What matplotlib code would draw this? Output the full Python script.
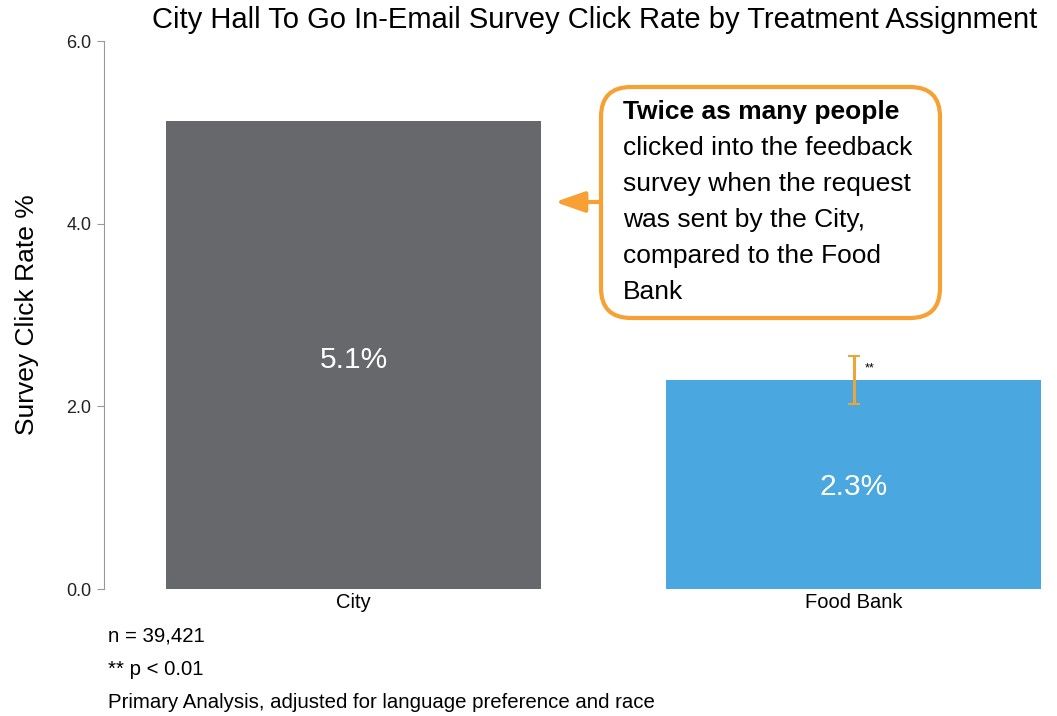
import matplotlib
matplotlib.use("Agg")
import matplotlib.pyplot as plt
from matplotlib.patches import FancyBboxPatch
from matplotlib.transforms import IdentityTransform

plt.rcParams['font.family'] = ['Liberation Sans', 'DejaVu Sans']

categories = ['City', 'Food Bank']
rates = [5.12, 2.29]
rate_labels = ['5.1%', '2.3%']
err_low = [None, 0.26]
err_high = [None, 0.26]
sig_marks = ['', '**']
yticks = [0.0, 2.0, 4.0, 6.0]
title = 'City Hall To Go In-Email Survey Click Rate by Treatment Assignment'
ylabel = 'Survey Click Rate %'
notes = ['n = 39,421', '** p < 0.01', 'Primary Analysis, adjusted for language preference and race']
callout_bold = 'Twice as many people'
callout_lines = ['clicked into the feedback', 'survey when the request',
                 'was sent by the City,', 'compared to the Food', 'Bank']

W, H = 1057, 716
bar_colors = ['#67686c', '#4aa7e0']
orange = '#f7a033'

fig = plt.figure(figsize=(W / 100, H / 100), dpi=100)
fig.patch.set_facecolor('white')

ax_l, ax_b, ax_t = 104, 589, 41
ax = fig.add_axes([ax_l / W, (H - ax_b) / H, (W - ax_l) / W, (ax_b - ax_t) / H])
x = list(range(len(categories)))
ax.bar(x, rates, width=0.75, color=bar_colors)
for i, (r, lab) in enumerate(zip(rates, rate_labels)):
    ax.text(i, r * 0.49, lab, ha='center', va='center', color='white', fontsize=21.5)
    if err_low[i] is not None:
        ax.errorbar(i, r, yerr=[[err_low[i]], [err_high[i]]], fmt='none',
                    ecolor='#e8a63c', elinewidth=2.2, capsize=4, capthick=1.5)
        ax.text(i + 0.022, r + err_high[i] * 0.5, sig_marks[i], ha='left', va='center', fontsize=9)

ax.set_xlim(-0.499, 1.407)
ax.set_ylim(0, 6)
ax.set_yticks(yticks)
ax.set_yticklabels([f'{v:.1f}' for v in yticks], fontsize=13, color='#222222')
ax.set_xticks(x)
ax.set_xticklabels(categories, fontsize=14.5)
ax.tick_params(axis='x', length=0, pad=3)
ax.tick_params(axis='y', length=5, color='#999999', pad=4)
for s in ['top', 'right', 'bottom']:
    ax.spines[s].set_visible(False)
ax.spines['left'].set_color('#999999')
ax.set_ylabel(ylabel, fontsize=19, labelpad=20)

fig.text(595 / W, 1 - 20 / H, title, ha='center', va='center', fontsize=21)

for j, t in enumerate(notes):
    fig.text(108 / W, 1 - (636 + j * 33.5) / H, t, ha='left', va='center', fontsize=14.7)

# callout box in pixel coordinates
bx0, by0, bx1, by1 = 601, 87, 940, 318
box = FancyBboxPatch((bx0, H - by1), bx1 - bx0, by1 - by0,
                     boxstyle='round,pad=0,rounding_size=30',
                     transform=IdentityTransform(), facecolor='white',
                     edgecolor=orange, linewidth=3)
fig.patches.append(box)
ax.annotate('', xy=(555, H - 202), xycoords='figure pixels',
            xytext=(bx0, H - 202), textcoords='figure pixels',
            arrowprops=dict(arrowstyle='-|>,head_length=1.0,head_width=0.35',
                            color=orange, lw=3, mutation_scale=18,
                            shrinkA=0, shrinkB=0))
fig.text(623 / W, 1 - 112 / H, callout_bold, ha='left', va='center', fontsize=19, fontweight='bold')
for j, t in enumerate(callout_lines):
    fig.text(623 / W, 1 - (148 + j * 36) / H, t, ha='left', va='center', fontsize=19)

fig.savefig('out.png', dpi=100)
